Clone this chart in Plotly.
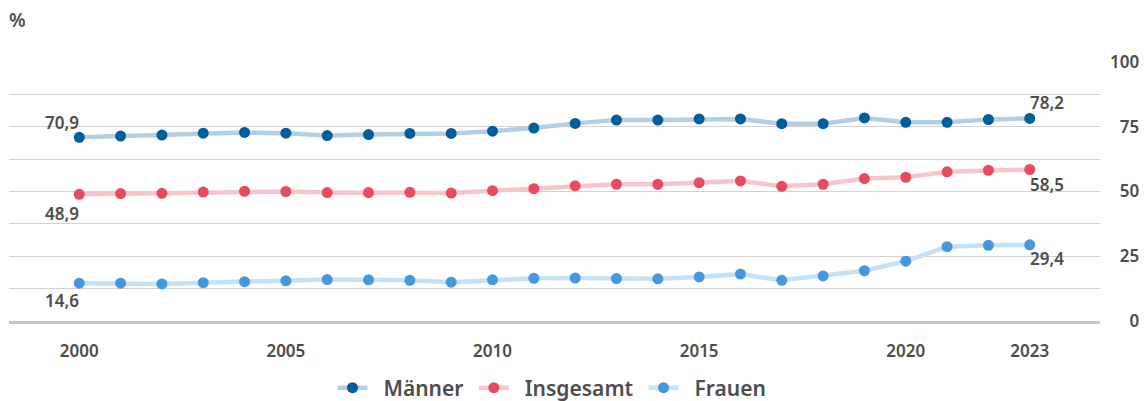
import plotly.graph_objects as go

years = list(range(2000, 2024))
maenner = [70.9, 71.4, 71.8, 72.5, 72.8, 72.5, 71.6, 72.0, 72.4, 72.4, 73.3, 74.5,
           76.3, 77.6, 77.6, 78.0, 78.0, 76.2, 76.2, 78.4, 76.7, 76.7, 77.8, 78.2]
insgesamt = [48.9, 49.2, 49.3, 49.8, 50.1, 50.0, 49.6, 49.6, 49.7, 49.4, 50.3, 51.1,
             52.2, 52.8, 52.8, 53.4, 54.1, 52.0, 52.8, 55.0, 55.5, 57.6, 58.2, 58.5]
frauen = [14.6, 14.6, 14.3, 14.8, 15.2, 15.5, 16.0, 15.9, 15.7, 15.0, 15.9, 16.5,
          16.6, 16.4, 16.3, 17.0, 18.1, 15.7, 17.4, 19.4, 23.1, 28.7, 29.2, 29.4]

series_names = ["Männer", "Insgesamt", "Frauen"]
x_tickvals = [2000, 2005, 2010, 2015, 2020, 2023]
y_tickvals = [0, 25, 50, 75, 100]

marker_colors = ["#005f9a", "#e84a60", "#4598de"]
line_colors = ["#b4cfe1", "#f7c6cd", "#c6e0f6"]

FONT = "Noto Sans"
TXT = "#4d4d4d"
NB = "\u00a0"

fig = go.Figure()
for name, vals, mc, lc in zip(series_names, [maenner, insgesamt, frauen], marker_colors, line_colors):
    fig.add_trace(go.Scatter(
        x=years, y=vals, name=NB * 2 + name + NB, mode="lines+markers",
        line=dict(color=lc, width=4.5),
        marker=dict(color=mc, size=11),
        hoverinfo="skip",
    ))

def fmt(v):
    return f"{v:.1f}".replace(".", ",")

annots = []
annots.append(dict(x=years[0], y=maenner[0], text=fmt(maenner[0]), xanchor="right", yanchor="bottom", xshift=2, yshift=1))
annots.append(dict(x=years[0], y=insgesamt[0], text=fmt(insgesamt[0]), xanchor="right", yanchor="top", xshift=2, yshift=-6))
annots.append(dict(x=years[0], y=frauen[0], text=fmt(frauen[0]), xanchor="right", yanchor="top", xshift=2, yshift=-4))
annots.append(dict(x=years[-1], y=maenner[-1], text=fmt(maenner[-1]), xanchor="left", yanchor="bottom", xshift=-2, yshift=2))
annots.append(dict(x=years[-1], y=insgesamt[-1], text=fmt(insgesamt[-1]), xanchor="left", yanchor="top", xshift=-2, yshift=-2))
annots.append(dict(x=years[-1], y=frauen[-1], text=fmt(frauen[-1]), xanchor="left", yanchor="top", xshift=-2, yshift=0))
for a in annots:
    a.update(showarrow=False, font=dict(family=FONT, size=17, color=TXT, weight=600))

annots.append(dict(xref="paper", yref="paper", x=0, y=1, xshift=-2, yshift=42,
                   text="%", showarrow=False, xanchor="left", yanchor="middle",
                   font=dict(family=FONT, size=19, color=TXT, weight=600)))

FS = "\u2007"
y_ticktext = [FS * (3 - len(str(v))) + str(v) for v in y_tickvals]

# page body has an 8px margin, so the figure is offset by 8px
fig.update_layout(
    width=1139, height=393,
    margin=dict(l=1, r=47, t=54, b=80, autoexpand=False),
    paper_bgcolor="white", plot_bgcolor="white",
    font=dict(family=FONT, color=TXT),
    showlegend=True,
    legend=dict(orientation="h", x=0.5, xanchor="center", yref="container", y=0.033, yanchor="middle",
                font=dict(family=FONT, size=21, color=TXT, weight=600),
                itemwidth=30, traceorder="normal"),
    annotations=annots,
    xaxis=dict(range=[1998.3, 2024.7], tickvals=x_tickvals, showgrid=False, zeroline=False,
               showline=True, linecolor="#c4c4c4", linewidth=3, ticks="",
               ticklabelstandoff=13, automargin=False,
               tickfont=dict(family=FONT, size=17, color=TXT, weight=600)),
    yaxis=dict(range=[0, 100], side="right", tickvals=y_tickvals, ticktext=y_ticktext,
               showgrid=True, gridcolor="#d2d2d2", gridwidth=1, zeroline=False,
               showline=False, ticks="", ticklabelstandoff=9, automargin=False,
               minor=dict(dtick=12.5, tick0=0, showgrid=True, gridcolor="#d2d2d2", gridwidth=1),
               tickfont=dict(family=FONT, size=17, color=TXT, weight=600)),
)

fig.write_html("out.html")
